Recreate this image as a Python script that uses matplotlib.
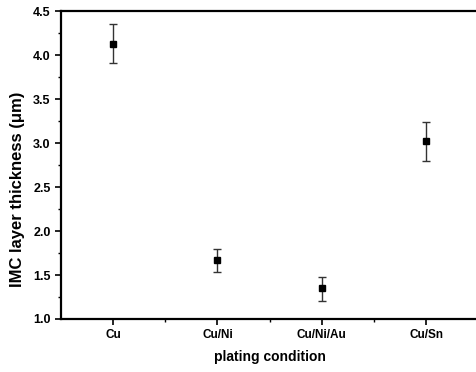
import matplotlib
matplotlib.use("Agg")
import matplotlib.pyplot as plt
from matplotlib.ticker import MultipleLocator, FixedLocator

categories = ["Cu", "Cu/Ni", "Cu/Ni/Au", "Cu/Sn"]
thickness = [4.13, 1.67, 1.35, 3.02]
err_upper = [0.22, 0.13, 0.13, 0.22]
err_lower = [0.22, 0.14, 0.15, 0.22]

plt.rcParams['font.family'] = ['Liberation Sans', 'DejaVu Sans']

fig = plt.figure(figsize=(4.76, 3.72), dpi=100)
ax = fig.add_axes([0.128, 0.1425, 0.877, 0.8275])

x = list(range(len(categories)))
ax.errorbar(x, thickness, yerr=[err_lower, err_upper], fmt='s', color='black',
            ecolor='#333333', markersize=5, elinewidth=1.0, capsize=3, capthick=1.0)

ax.set_xlim(-0.5, 3.5)
ax.set_ylim(1.0, 4.5)
ax.set_xticks(x)
ax.set_xticklabels(categories, fontsize=8.5, fontweight='bold')
ax.xaxis.set_minor_locator(FixedLocator([0.5, 1.5, 2.5]))
ax.yaxis.set_major_locator(MultipleLocator(0.5))
ax.yaxis.set_minor_locator(MultipleLocator(0.25))
ax.set_yticklabels([f"{v:.1f}" for v in ax.get_yticks()], fontsize=9, fontweight='bold')
ax.tick_params(axis='both', which='major', direction='out', length=4, width=1.2)
ax.tick_params(axis='both', which='minor', direction='out', length=2.5, width=1.0)
for s in ax.spines.values():
    s.set_linewidth(1.6)
ax.spines['right'].set_visible(False)

ax.set_xlabel("plating condition", fontsize=10, fontweight='bold', labelpad=6)
ax.set_ylabel("IMC layer thickness (μm)", fontsize=12, fontweight='bold')
ax.yaxis.set_label_coords(-0.085, 0.42)

fig.savefig("out.png", dpi=100)
